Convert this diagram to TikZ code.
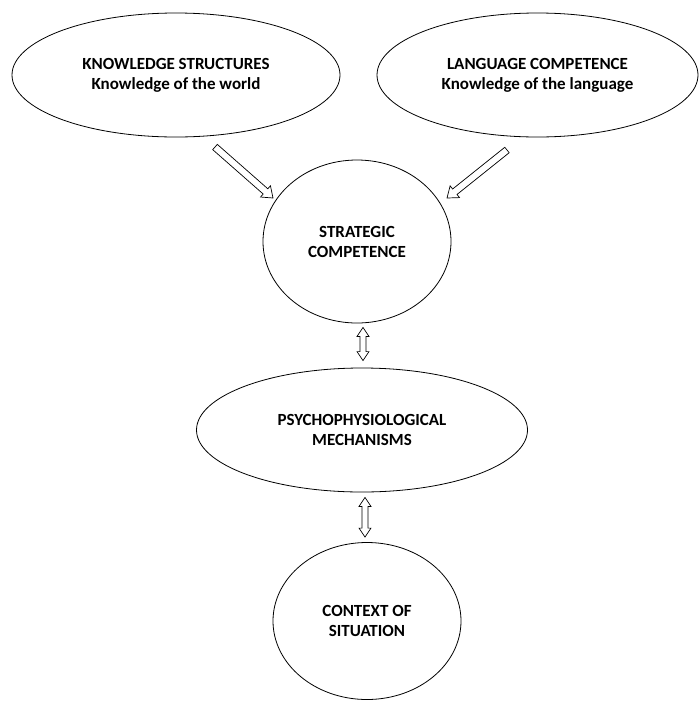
\documentclass[tikz,border=0pt]{standalone}
\usepackage{fontspec}
\setmainfont{Carlito}
\usetikzlibrary{shapes.geometric,calc}

\tikzset{
  x=1pt, y=-1pt,
  boldtext/.style={align=center, font=\bfseries\fontsize{17}{20}\selectfont},
  bubble/.style={boldtext, draw, ellipse, line width=0.8pt, inner sep=0pt},
  hollow/.style={draw, line width=0.7pt, fill=white, line join=miter},
}

% hollow block arrow from #1 to the tip #2
\newcommand\blockarrow[2]{%
  \coordinate (hb) at ($(#2)!10pt!(#1)$);
  \draw[hollow] ($(#1)!3.5pt!90:(#2)$) -- ($(hb)!3.5pt!90:(#2)$)
    -- ($(hb)!7.5pt!90:(#2)$) -- (#2) -- ($(hb)!7.5pt!-90:(#2)$)
    -- ($(hb)!3.5pt!-90:(#2)$) -- ($(#1)!3.5pt!-90:(#2)$) -- cycle;
}

% hollow two-headed block arrow between #1 and #2
\newcommand\twowayarrow[2]{%
  \coordinate (ha) at ($(#1)!9pt!(#2)$);
  \coordinate (hb) at ($(#2)!9pt!(#1)$);
  \draw[hollow] (#1) -- ($(ha)!6pt!90:(hb)$) -- ($(ha)!3pt!90:(hb)$)
    -- ($(hb)!3pt!-90:(ha)$) -- ($(hb)!6pt!-90:(ha)$) -- (#2)
    -- ($(hb)!6pt!90:(ha)$) -- ($(hb)!3pt!90:(ha)$)
    -- ($(ha)!3pt!-90:(hb)$) -- ($(ha)!6pt!-90:(hb)$) -- cycle;
}

\begin{document}
\begin{tikzpicture}
\useasboundingbox (0,0) rectangle (700,702);

\node[bubble, minimum width=328pt, minimum height=124pt] (ks) at (176,75)
  {KNOWLEDGE STRUCTURES\\Knowledge of the world};
\node[bubble, minimum width=321pt, minimum height=124pt] (lc) at (537.5,75)
  {LANGUAGE COMPETENCE\\Knowledge of the language};
\node[bubble, minimum width=188pt, minimum height=163pt] (sc) at (357,241.5)
  {STRATEGIC\\COMPETENCE};
\node[bubble, minimum width=331pt, minimum height=124pt] (pm) at (362,430)
  {PSYCHOPHYSIOLOGICAL\\MECHANISMS};
\node[bubble, minimum width=188pt, minimum height=157pt] (cs) at (367,621)
  {CONTEXT OF\\SITUATION};

% arrow end points
\coordinate (k1) at (215,147);
\coordinate (k2) at (273,198);
\coordinate (l1) at (507,150);
\coordinate (l2) at (447,198);
\coordinate (s1) at ($(pm.north |- sc.south)+(1,4)$);
\coordinate (s2) at ($(pm.north)+(1,-7)$);
\coordinate (p1) at ($(pm.south)+(3,5)$);
\coordinate (p2) at ($(pm.south |- cs.north)+(3,-5)$);

\blockarrow{k1}{k2}
\blockarrow{l1}{l2}
\twowayarrow{s1}{s2}
\twowayarrow{p1}{p2}
\end{tikzpicture}
\end{document}
